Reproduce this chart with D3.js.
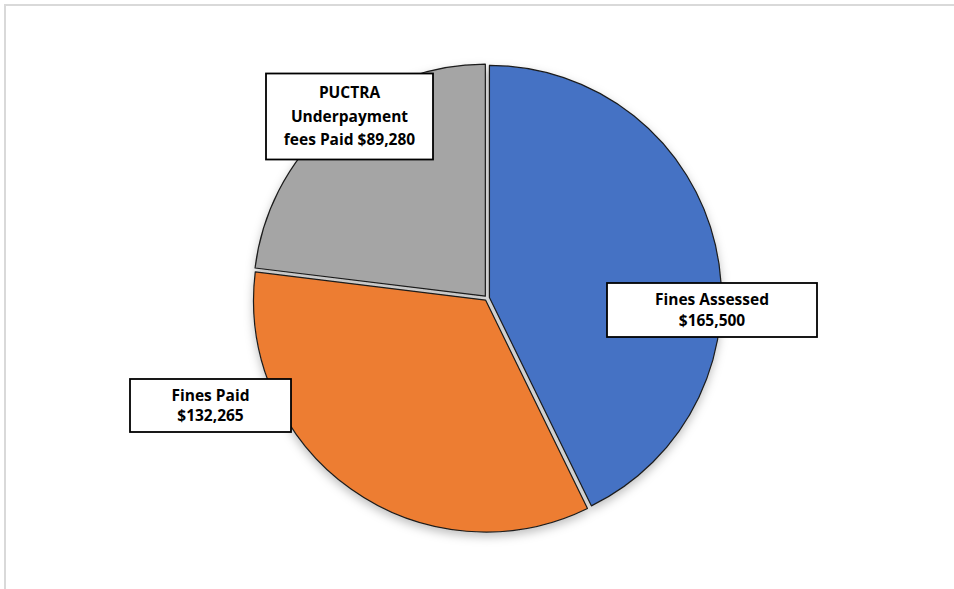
<!DOCTYPE html>
<meta charset="utf-8">
<style>
body { margin: 0; background: #fff; }
text { font-family: "Open Sans", sans-serif; font-weight: bold; font-size: 15.5px; fill: #000; }
</style>
<body>
<div id="chart"></div>
<script src="https://cdn.jsdelivr.net/npm/d3@7"></script>
<script>

var categories = ["Fines Assessed", "Fines Paid", "PUCTRA Underpayment fees Paid"];
var values = [165500, 132265, 89280];
var labelLines = [["Fines Assessed"], ["Fines Paid"], ["PUCTRA", "Underpayment", "fees Paid"]];
var colors = ["#4472C4", "#ED7D31", "#A5A5A5"];

var width = 954, height = 589,
    cx = 487, cy = 298, radius = 232, explode = 2.5,
    fmt = d3.format("$,");

// label box layout (centre offset from pie centre, box size, line height)
var boxes = [
  {dx: 225, dy: 12, w: 210, h: 54, lh: 21, valueOnOwnLine: true},
  {dx: -276.5, dy: 107.5, w: 161, h: 53, lh: 20, valueOnOwnLine: true},
  {dx: -137.5, dy: -181.5, w: 167, h: 86, lh: 23.5, valueOnOwnLine: false}
];

var svg = d3.select("#chart").append("svg")
    .attr("width", width)
    .attr("height", height);

// chart frame
svg.append("rect")
    .attr("x", 5).attr("y", 5)
    .attr("width", 1200).attr("height", 1200)
    .attr("fill", "none")
    .attr("stroke", "#d9d9d9")
    .attr("stroke-width", 2);

var defs = svg.append("defs");
var f = defs.append("filter").attr("id", "shadow")
    .attr("x", "-20%").attr("y", "-20%").attr("width", "140%").attr("height", "140%");
f.append("feDropShadow")
    .attr("dx", 0).attr("dy", 4)
    .attr("stdDeviation", 5)
    .attr("flood-color", "#000")
    .attr("flood-opacity", 0.25);

var data = categories.map(function(c, i) {
  return {name: c, value: values[i], color: colors[i], lines: labelLines[i], box: boxes[i]};
});

var pie = d3.pie()
    .value(function(d) { return d.value; })
    .sort(null);

var arc = d3.arc()
    .innerRadius(0)
    .outerRadius(radius);

var arcs = pie(data);

var g = svg.append("g")
    .attr("transform", "translate(" + cx + "," + cy + ")")
    .attr("filter", "url(#shadow)");

g.selectAll("path")
    .data(arcs)
    .enter().append("path")
    .attr("transform", function(d) {
      var a = (d.startAngle + d.endAngle) / 2;
      return "translate(" + (Math.sin(a) * explode) + "," + (-Math.cos(a) * explode) + ")";
    })
    .attr("d", arc)
    .attr("fill", function(d) { return d.data.color; })
    .attr("stroke", "#1a1a1a")
    .attr("stroke-width", 1.2)
    .attr("stroke-linejoin", "round");

// data labels
var lab = svg.selectAll(".label")
    .data(arcs)
    .enter().append("g")
    .attr("class", "label")
    .attr("transform", function(d) {
      return "translate(" + (cx + d.data.box.dx) + "," + (cy + d.data.box.dy) + ")";
    });

lab.append("rect")
    .attr("x", function(d) { return -d.data.box.w / 2; })
    .attr("y", function(d) { return -d.data.box.h / 2; })
    .attr("width", function(d) { return d.data.box.w; })
    .attr("height", function(d) { return d.data.box.h; })
    .attr("fill", "#fff")
    .attr("stroke", "#000")
    .attr("stroke-width", 1.8);

lab.each(function(d) {
  var lines = d.data.lines.slice();
  var v = fmt(d.data.value);
  if (d.data.box.valueOnOwnLine) lines.push(v);
  else lines[lines.length - 1] = lines[lines.length - 1] + " " + v;
  var lh = d.data.box.lh;
  var y0 = -(lines.length - 1) * lh / 2;
  d3.select(this).selectAll("text")
      .data(lines)
      .enter().append("text")
      .attr("text-anchor", "middle")
      .attr("dy", "0.35em")
      .attr("y", function(t, i) { return y0 + i * lh; })
      .text(function(t) { return t; });
});

</script>
</body>
